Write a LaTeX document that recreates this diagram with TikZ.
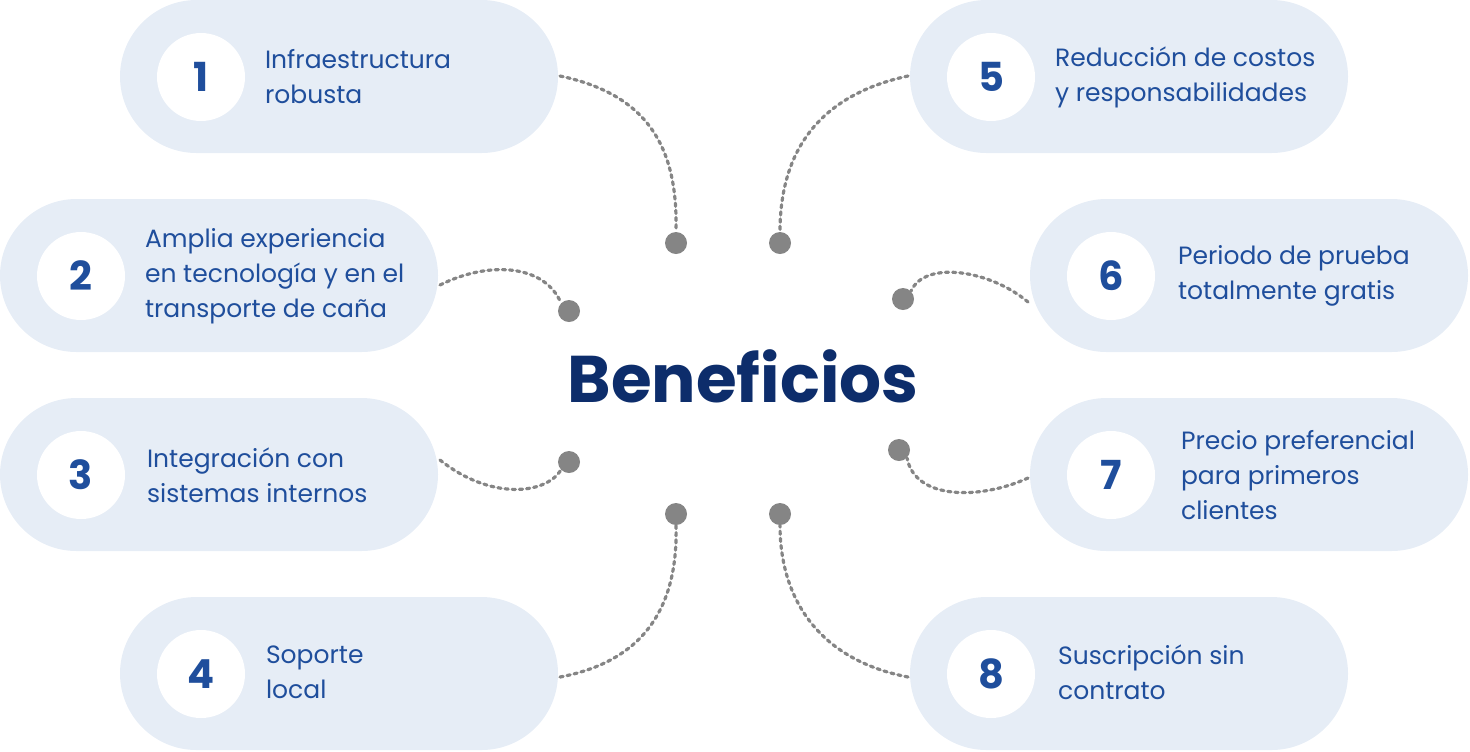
\documentclass[tikz,border=0pt]{standalone}
\usepackage{fontspec}
\setmainfont{Poppins}
\definecolor{pill}{HTML}{E6EDF6}
\definecolor{txt}{HTML}{1F4E9C}
\definecolor{navy}{HTML}{0D2D6B}
\definecolor{dot}{HTML}{858585}
\begin{document}
\begin{tikzpicture}[x=0.5pt,y=-0.5pt,
  pillbox/.style={fill=pill,rounded corners=76.5*0.5pt},
  numc/.style={circle,fill=white,minimum size=44pt,inner sep=0pt,font=\fontsize{20}{20}\selectfont\bfseries,text=txt},
  lbl/.style={anchor=west,align=left,text=txt,font=\fontsize{12.5}{17.5}\selectfont},
  conn/.style={draw=dot,line width=1.6pt,dotted,line cap=round},
  blob/.style={circle,fill=dot,minimum size=11pt,inner sep=0pt}]
\useasboundingbox (0,0) rectangle (1470,751);
% pills
\fill[pillbox] (120,0) rectangle (558,153);
\fill[pillbox] (0,199) rectangle (438,352);
\fill[pillbox] (0,398) rectangle (438,551);
\fill[pillbox] (120,597) rectangle (558,750);
\fill[pillbox] (910,0) rectangle (1348,153);
\fill[pillbox] (1030,199) rectangle (1468,352);
\fill[pillbox] (1030,398) rectangle (1468,551);
\fill[pillbox] (910,597) rectangle (1348,750);
% numbers
\node[numc] (n1) at (201,77) {1};
\node[numc] (n2) at (81,276) {2};
\node[numc] (n3) at (81,475) {3};
\node[numc] (n4) at (201,674) {4};
\node[numc] (n5) at (991,77) {5};
\node[numc] (n6) at (1111,276) {6};
\node[numc] (n7) at (1111,475) {7};
\node[numc] (n8) at (991,674) {8};
% labels
\node[lbl] (t1) at (258,77) {Infraestructura\\robusta};
\node[lbl] (t2) at (138,276) {Amplia experiencia\\en tecnología y en el\\transporte de caña};
\node[lbl] (t3) at (140,475) {Integración con\\sistemas internos};
\node[lbl] (t4) at (259,672) {Soporte\\local};
\node[lbl] (t5) at (1048,77) {Reducción de costos\\y responsabilidades};
\node[lbl] (t6) at (1171,276) {Periodo de prueba\\totalmente gratis};
\node[lbl] (t7) at (1174,475) {Precio preferencial\\para primeros\\clientes};
\node[lbl] (t8) at (1051,672) {Suscripción sin\\contrato};
\node[text=navy,font=\fontsize{33}{33}\selectfont\bfseries] (ben) at (743,376) {Beneficios};
% blobs
\node[blob] (b1) at (676,243) {};
\node[blob] (b5) at (780,243) {};
\node[blob] (b2) at (569,311) {};
\node[blob] (b3) at (569,462) {};
\node[blob] (b6) at (903,299) {};
\node[blob] (b7) at (899,450) {};
\node[blob] (b4) at (676,514) {};
\node[blob] (b8) at (780,514) {};
% connectors
\coordinate (c1) at (560,76); \coordinate (c5) at (908,76);
\coordinate (c2) at (440,285); \coordinate (c3) at (440,460);
\coordinate (c6) at (1028,302); \coordinate (c7) at (1028,478);
\coordinate (c4) at (560,677); \coordinate (c8) at (908,677);
\draw[conn] (c1) .. controls (650,95) and (678,150) .. (b1.north);
\draw[conn] (c5) .. controls (820,95) and (780,150) .. (b5.north);
\draw[conn] (c2) .. controls (490,260) and (545,265) .. (b2.north west);
\draw[conn] (c3) .. controls (490,500) and (545,495) .. (b3.south west);
\draw[conn] (c6) .. controls (990,270) and (925,260) .. (b6.north east);
\draw[conn] (c7) .. controls (980,500) and (915,500) .. (b7.south east);
\draw[conn] (c4) .. controls (650,660) and (678,600) .. (b4.south);
\draw[conn] (c8) .. controls (820,660) and (780,600) .. (b8.south);
\end{tikzpicture}
\end{document}
